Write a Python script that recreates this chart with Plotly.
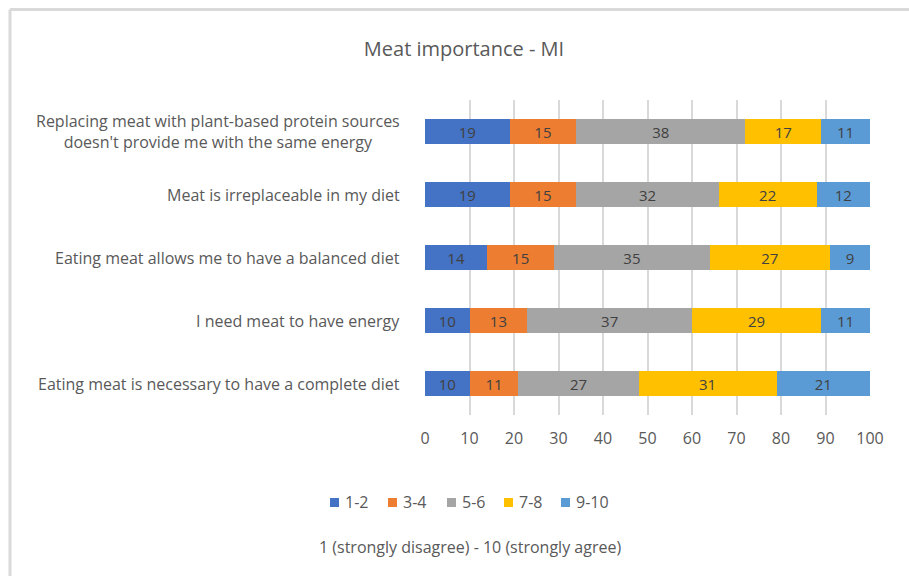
import plotly.graph_objects as go

# Survey statements (top to bottom) and share of answers per score band (%)
statements = [
    "Replacing meat with plant-based protein sources<br>doesn't provide me with the same energy",
    "Meat is irreplaceable in my diet",
    "Eating meat allows me to have a balanced diet",
    "I need meat to have energy",
    "Eating meat is necessary to have a complete diet",
]
bands = ["1-2", "3-4", "5-6", "7-8", "9-10"]
score_1_2 = [19, 19, 14, 10, 10]
score_3_4 = [15, 15, 15, 13, 11]
score_5_6 = [38, 32, 35, 37, 27]
score_7_8 = [17, 22, 27, 29, 31]
score_9_10 = [11, 12, 9, 11, 21]
x_ticks = [0, 10, 20, 30, 40, 50, 60, 70, 80, 90, 100]

series = [score_1_2, score_3_4, score_5_6, score_7_8, score_9_10]
colors = ["#4472C4", "#ED7D31", "#A5A5A5", "#FFC000", "#5B9BD5"]

FONT = "'Open Sans', sans-serif"
TEXT_COLOR = "#595959"

W, H = 909, 576
L, R, T, B = 425, 39, 100, 161
pw, ph = W - L - R, H - T - B


def fx(px):
    return (px - L) / pw


def fy(py):
    return 1 - (py - T) / ph


fig = go.Figure()
for name, vals, col in zip(bands, series, colors):
    fig.add_trace(go.Bar(
        y=list(range(len(statements))), x=vals, name=name, orientation="h",
        marker=dict(color=col, line=dict(width=0)),
        text=[str(v) for v in vals], textposition="inside",
        insidetextanchor="middle", textangle=0, constraintext="none",
        textfont=dict(family=FONT, size=15, color="#404040"),
        hoverinfo="skip", showlegend=False,
    ))

# Category labels as centred multi-line annotations
for i, s in enumerate(statements):
    fig.add_annotation(
        x=fx(402), xref="paper", y=i, yref="y", text=s, showarrow=False,
        xanchor="right", yanchor="middle", align="center",
        font=dict(family=FONT, size=16, color=TEXT_COLOR),
    )

# Legend: small colour squares followed by band names
legend_x0 = [330, 388, 447, 504, 561]
for name, col, x0 in zip(bands, colors, legend_x0):
    fig.add_shape(type="rect", xref="paper", yref="paper",
                  x0=fx(x0), x1=fx(x0 + 9), y0=fy(507), y1=fy(498),
                  fillcolor=col, line=dict(width=0))
    fig.add_annotation(x=fx(x0 + 13), xref="paper", y=fy(502.5), yref="paper",
                       text=name, showarrow=False, xanchor="left", yanchor="middle",
                       font=dict(family=FONT, size=16, color=TEXT_COLOR))

# Axis subtitle under the legend
fig.add_annotation(
    x=fx(470), xref="paper", y=fy(547), yref="paper",
    text="1 (strongly disagree) - 10 (strongly agree)",
    showarrow=False, xanchor="center", yanchor="middle",
    font=dict(family=FONT, size=16, color=TEXT_COLOR),
)

# Chart frame (top and left edges visible)
frame = dict(color="#d9d9d9", width=3)
fig.add_shape(type="line", xref="paper", yref="paper", x0=fx(10), x1=fx(W + 10),
              y0=fy(9.5), y1=fy(9.5), line=frame)
fig.add_shape(type="line", xref="paper", yref="paper", x0=fx(10), x1=fx(10),
              y0=fy(9.5), y1=fy(H + 10), line=frame)

fig.update_layout(
    width=W, height=H,
    margin=dict(l=L, r=R, t=T, b=B, autoexpand=False),
    paper_bgcolor="white", plot_bgcolor="white",
    barmode="stack", bargap=0.6,
    title=dict(text="Meat importance - MI", x=464 / W, xref="container", xanchor="center",
               y=1 - 49 / H, yref="container", yanchor="middle",
               font=dict(family=FONT, size=20, color=TEXT_COLOR)),
    xaxis=dict(range=[0, 100], tickvals=x_ticks, ticktext=[str(t) for t in x_ticks],
               showgrid=True, gridcolor="#d9d9d9", gridwidth=2, zeroline=False,
               showline=False, ticks="", ticklabelstandoff=12,
               tickfont=dict(family=FONT, size=16, color=TEXT_COLOR), fixedrange=True),
    yaxis=dict(range=[len(statements) - 0.5, -0.5], showticklabels=False, showgrid=False,
               zeroline=False, showline=False, ticks=""),
    showlegend=False,
)

fig.write_html("out.html")
